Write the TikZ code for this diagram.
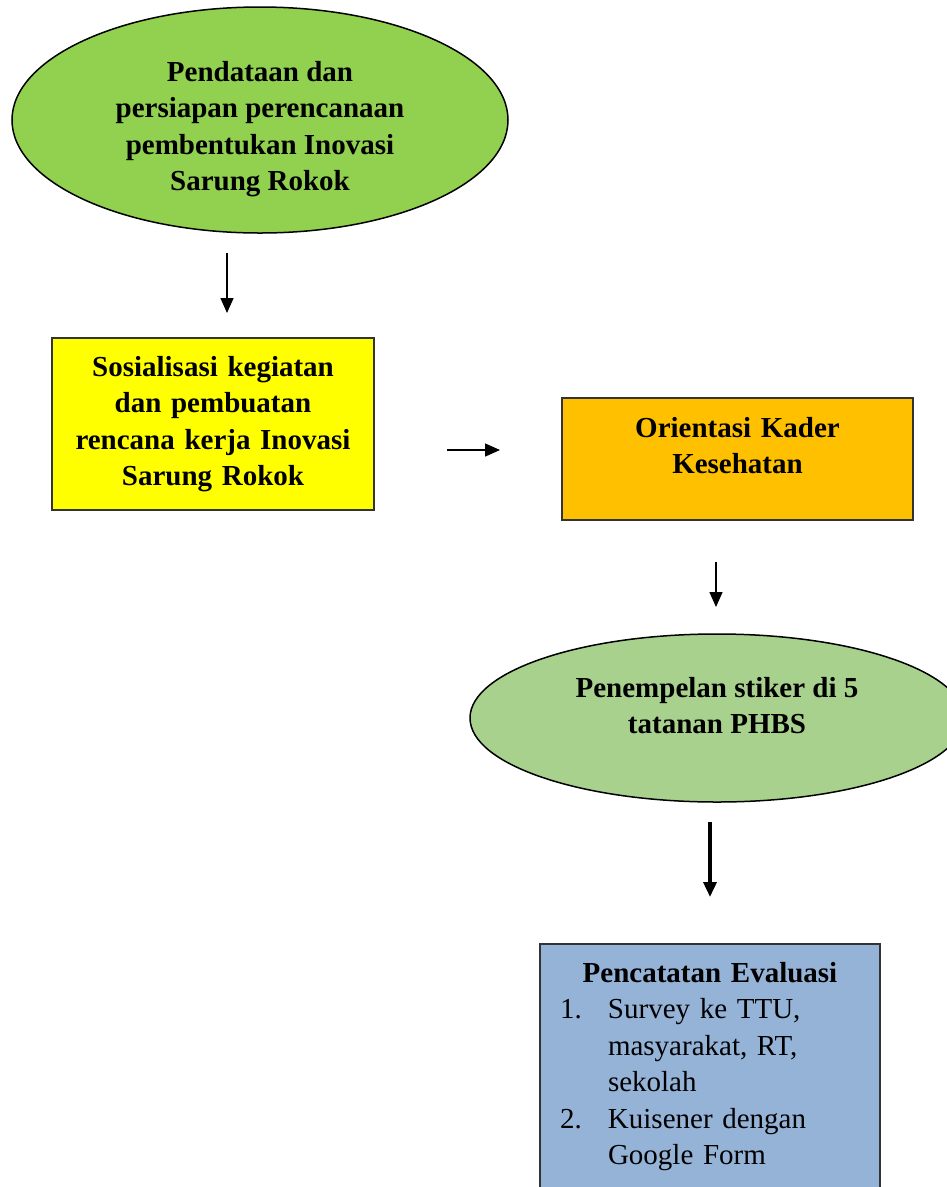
\documentclass[tikz,border=0pt]{standalone}
\usepackage{fontspec}
\setmainfont{Liberation Serif}
\usetikzlibrary{shapes.geometric,arrows.meta}
\usepackage{xcolor}
\definecolor{pendgreen}{HTML}{92D050}
\definecolor{sosyellow}{HTML}{FFFF00}
\definecolor{kaderorange}{HTML}{FFC000}
\definecolor{stikergreen}{HTML}{A9D18E}
\definecolor{evalblue}{HTML}{95B3D7}

\begin{document}
\begin{tikzpicture}[x=1pt, y=-1pt,
    flowtext/.style={font=\fontsize{29}{36.5}\selectfont\bfseries, align=center},
    oval/.style={ellipse, draw=black, line width=1.5pt, inner sep=0pt, flowtext},
    box/.style={rectangle, draw=black!80, line width=2pt, flowtext},
    arrow/.style={-{Triangle[width=13pt,length=15pt]}, line width=1.5pt}]
\useasboundingbox (0,0) rectangle (946,1187);

% Pendataan
\node[oval, fill=pendgreen, minimum width=496, minimum height=226, text height=148pt] (pendataan) at (260,120)
    {Pendataan dan\\persiapan perencanaan\\pembentukan Inovasi\\Sarung Rokok};

% Sosialisasi
\node[box, fill=sosyellow, minimum width=322, minimum height=172, text width=300] (sosialisasi) at (213,424)
    {Sosialisasi kegiatan\\dan pembuatan\\rencana kerja Inovasi\\Sarung Rokok};

% Orientasi Kader
\node[box, fill=kaderorange, minimum width=351, minimum height=122, text width=330, text depth=64pt] (kader) at (737.5,459)
    {Orientasi Kader\\Kesehatan};

% Penempelan stiker
\node[oval, fill=stikergreen, minimum width=494, minimum height=168, text depth=25pt] (stiker) at (717,718)
    {Penempelan stiker di 5\\tatanan PHBS};

% Pencatatan Evaluasi
\node[box, fill=evalblue, anchor=north, text width=300, inner xsep=20, inner ysep=18, align=left,
    font=\fontsize{29}{36.5}\selectfont, text depth=200pt] (evaluasi) at (710,943)
    {\makebox[300pt][c]{\bfseries Pencatatan Evaluasi}\\
     \makebox[48pt][l]{1.}Survey ke TTU,\\
     \hspace*{48pt}masyarakat, RT,\\
     \hspace*{48pt}sekolah\\
     \makebox[48pt][l]{2.}Kuisener dengan\\
     \hspace*{48pt}Google Form};

% Arrows
\coordinate (a1) at (227,253); \coordinate (b1) at (227,313);
\coordinate (a2) at (447,450); \coordinate (b2) at (500,450);
\coordinate (a3) at (716,562); \coordinate (b3) at (716,607);
\coordinate (a4) at (710,822); \coordinate (b4) at (710,897);
\draw[arrow] (a1) -- (b1);
\draw[arrow] (a2) -- (b2);
\draw[arrow] (a3) -- (b3);
\draw[arrow, line width=3.5pt] (a4) -- (b4);

\end{tikzpicture}
\end{document}
